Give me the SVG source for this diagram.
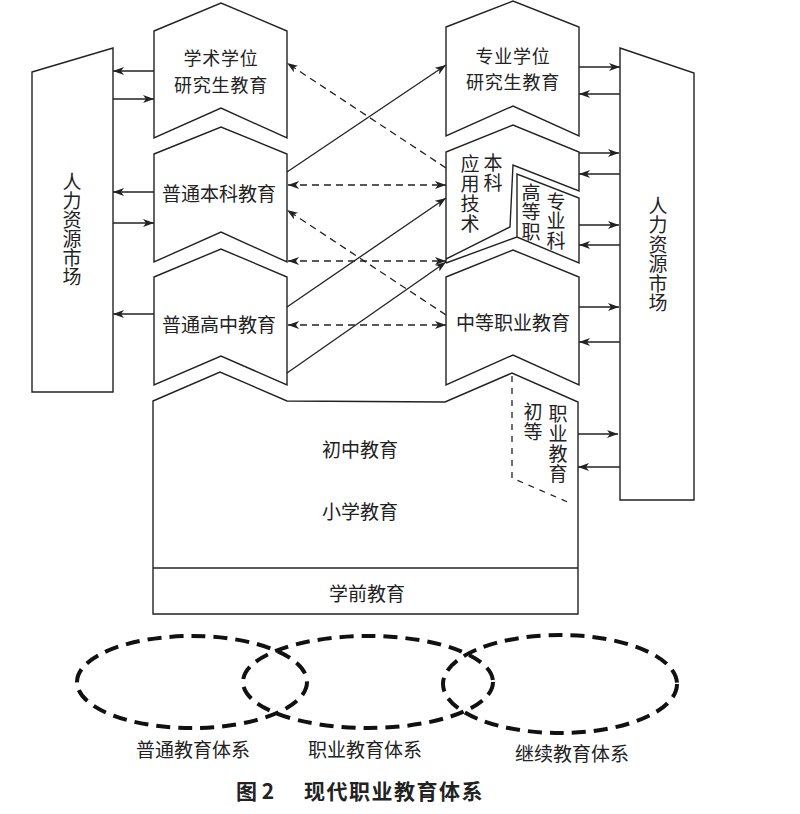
<svg xmlns="http://www.w3.org/2000/svg" width="800" height="814" viewBox="0 0 800 814">
<defs>
<marker id="ah" markerUnits="userSpaceOnUse" markerWidth="11" markerHeight="8" refX="11" refY="4" orient="auto-start-reverse">
<path d="M0,0 L11,4 L0,8 L3,4 Z" fill="#222"/>
</marker>
<style>
.box{fill:#fff;stroke:#222;stroke-width:1.4;stroke-linejoin:miter}
.ln{fill:none;stroke:#222;stroke-width:1.3}
.sl{fill:none;stroke:#222;stroke-width:1.3}
.dl{fill:none;stroke:#222;stroke-width:1.3;stroke-dasharray:7 5}
.el{fill:none;stroke:#111;stroke-width:4;stroke-dasharray:14 8}
.t{font-family:"Noto Sans CJK SC","Noto Sans CJK JP",sans-serif;font-size:19px;fill:#222;text-anchor:middle;dominant-baseline:central}
.t2{font-family:"Noto Sans CJK SC","Noto Sans CJK JP",sans-serif;font-size:18px;fill:#222;text-anchor:middle;dominant-baseline:central}
.v{font-family:"Noto Sans CJK SC","Noto Sans CJK JP",sans-serif;font-size:19px;fill:#222;text-anchor:middle;writing-mode:vertical-rl}
.cap{font-family:"Noto Sans CJK SC","Noto Sans CJK JP",sans-serif;font-size:21px;font-weight:bold;fill:#222;dominant-baseline:central}
</style>
</defs>
<rect width="800" height="814" fill="#fff"/>

<g id="hr-left">
<path class="box" d="M32,72 L113,48 L113,392 L32,392 Z"/>
<text class="v" x="72" y="229.5">人力资源市场</text>
</g>

<g id="hr-right">
<path class="box" d="M620,48 L694,73 L694,500 L620,500 Z"/>
<text class="v" x="658" y="254.5" style="letter-spacing:0.5px">人力资源市场</text>
</g>

<g id="academic-grad">
<path class="box" d="M154,31 L221,3 L287,31 L287,138 L221,108 L154,138 Z"/>
<text class="t2" x="221" y="57" style="letter-spacing:0.8px">学术学位</text>
<text class="t2" x="221" y="83.5" style="letter-spacing:0.8px">研究生教育</text>
</g>

<g id="general-undergrad">
<path class="box" d="M154,154 L221,127 L287,154 L287,262 L221,232 L154,262 Z"/>
<text class="t" x="219" y="192">普通本科教育</text>
</g>

<g id="general-highschool">
<path class="box" d="M154,277 L221,249 L287,277 L287,385 L221,356 L154,385 Z"/>
<text class="t" x="219" y="323">普通高中教育</text>
</g>

<g id="professional-grad">
<path class="box" d="M446,27 L513,1 L579,27 L579,136 L513,106 L446,136 Z"/>
<text class="t2" x="513" y="54.5" style="letter-spacing:0.8px">专业学位</text>
<text class="t2" x="513" y="81" style="letter-spacing:0.8px">研究生教育</text>
</g>

<g id="applied-undergrad">
<path class="box" d="M446,263 L446,152 L513,125 L579,152 L579,191 L513,165 L510,227 L446,259 Z"/>
<text class="v" x="470" y="194" style="letter-spacing:1px">应用技术</text>
<text class="v" x="493" y="173" style="letter-spacing:1px">本科</text>
</g>

<g id="higher-vocational">
<path class="box" d="M446,263 L517,237 L579,263 L579,198 L517,174 L517,237"/>
<text class="v" x="531" y="212.5" style="letter-spacing:0.5px">高等职</text>
<text class="v" x="556" y="221.5" style="letter-spacing:0.5px">专业科</text>
</g>

<g id="secondary-vocational">
<path class="box" d="M446,277 L513,250 L579,277 L579,385 L513,355 L446,385 Z"/>
<text class="t" x="513" y="321">中等职业教育</text>
</g>

<g id="basic-education">
<path class="box" d="M153,401 L220,372 L287,401 L445,402 L512,373 L578,402 L578,614 L153,614 Z"/>
<line class="ln" x1="153" y1="568" x2="578" y2="568"/>
<polyline class="dl" points="512,376 512,478 570,503" style="stroke-dasharray:6 6"/>
<text class="t" x="360" y="448">初中教育</text>
<text class="t" x="360" y="510">小学教育</text>
<text class="t" x="367" y="592">学前教育</text>
<text class="v" x="533" y="422" style="letter-spacing:1px">初等</text>
<text class="v" x="558" y="444" style="letter-spacing:1px">职业教育</text>
</g>

<g id="connectors">
<line class="sl" x1="154" y1="71" x2="113" y2="71" marker-end="url(#ah)"/>
<line class="sl" x1="113" y1="99" x2="154" y2="99" marker-end="url(#ah)"/>
<line class="sl" x1="154" y1="192" x2="113" y2="192" marker-end="url(#ah)"/>
<line class="sl" x1="113" y1="223" x2="154" y2="223" marker-end="url(#ah)"/>
<line class="sl" x1="154" y1="314" x2="113" y2="314" marker-end="url(#ah)"/>

<line class="sl" x1="579" y1="67" x2="620" y2="67" marker-end="url(#ah)"/>
<line class="sl" x1="620" y1="94" x2="579" y2="94" marker-end="url(#ah)"/>
<line class="sl" x1="579" y1="153" x2="619" y2="153" marker-end="url(#ah)"/>
<line class="sl" x1="620" y1="174" x2="579" y2="174" marker-end="url(#ah)"/>
<line class="sl" x1="579" y1="225" x2="619" y2="225" marker-end="url(#ah)"/>
<line class="sl" x1="620" y1="245" x2="579" y2="245" marker-end="url(#ah)"/>
<line class="sl" x1="579" y1="307" x2="619" y2="307" marker-end="url(#ah)"/>
<line class="sl" x1="620" y1="342" x2="579" y2="342" marker-end="url(#ah)"/>
<line class="sl" x1="578" y1="434" x2="618" y2="434" marker-end="url(#ah)"/>
<line class="sl" x1="620" y1="467" x2="578" y2="467" marker-end="url(#ah)"/>

<line class="sl" x1="287" y1="172" x2="446" y2="65" marker-end="url(#ah)"/>
<line class="dl" x1="446" y1="168" x2="287" y2="63" marker-end="url(#ah)"/>
<line class="dl" x1="288" y1="185" x2="446" y2="185" marker-start="url(#ah)" marker-end="url(#ah)"/>
<line class="dl" x1="446" y1="315" x2="287" y2="210" marker-end="url(#ah)"/>
<line class="dl" x1="288" y1="261" x2="446" y2="261" marker-start="url(#ah)" marker-end="url(#ah)"/>
<line class="sl" x1="287" y1="307" x2="446" y2="198" marker-end="url(#ah)"/>
<line class="sl" x1="287" y1="373" x2="446" y2="262" marker-end="url(#ah)"/>
<line class="dl" x1="288" y1="325" x2="446" y2="325" marker-start="url(#ah)" marker-end="url(#ah)"/>
</g>

<g id="systems">
<ellipse class="el" cx="192" cy="682" rx="115" ry="46"/>
<ellipse class="el" cx="368" cy="682" rx="125" ry="46"/>
<ellipse class="el" cx="560" cy="684" rx="117" ry="49"/>
<text class="t" x="193" y="748">普通教育体系</text>
<text class="t" x="365" y="748">职业教育体系</text>
<text class="t" x="572" y="752">继续教育体系</text>
</g>

<g id="caption">
<text class="cap" x="236" y="790">图 2</text>
<text class="cap" x="304" y="790" style="letter-spacing:1.5px">现代职业教育体系</text>
</g>
</svg>
